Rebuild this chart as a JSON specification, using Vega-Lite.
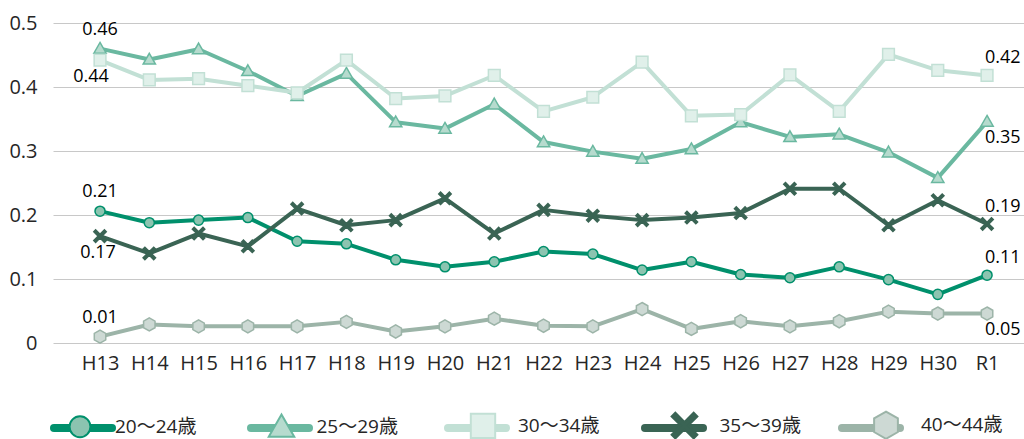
{
  "$schema": "https://vega.github.io/schema/vega-lite/v6.json",
  "width": 971,
  "height": 320,
  "autosize": {"type": "none"},
  "padding": {"left": 53, "top": 23, "right": 0, "bottom": 96},
  "background": "white",
  "config": {
    "view": {"stroke": null},
    "font": "Open Sans",
    "text": {"font": "Open Sans"}
  },
  "data": {
    "values": [
      {"year": "H13", "20～24歳": 0.206, "25～29歳": 0.460, "30～34歳": 0.442, "35～39歳": 0.167, "40～44歳": 0.010},
      {"year": "H14", "20～24歳": 0.188, "25～29歳": 0.443, "30～34歳": 0.411, "35～39歳": 0.140, "40～44歳": 0.029},
      {"year": "H15", "20～24歳": 0.192, "25～29歳": 0.459, "30～34歳": 0.413, "35～39歳": 0.171, "40～44歳": 0.026},
      {"year": "H16", "20～24歳": 0.196, "25～29歳": 0.425, "30～34歳": 0.402, "35～39歳": 0.151, "40～44歳": 0.026},
      {"year": "H17", "20～24歳": 0.159, "25～29歳": 0.386, "30～34歳": 0.391, "35～39歳": 0.210, "40～44歳": 0.026},
      {"year": "H18", "20～24歳": 0.155, "25～29歳": 0.421, "30～34歳": 0.442, "35～39歳": 0.184, "40～44歳": 0.033},
      {"year": "H19", "20～24歳": 0.130, "25～29歳": 0.345, "30～34歳": 0.382, "35～39歳": 0.192, "40～44歳": 0.018},
      {"year": "H20", "20～24歳": 0.119, "25～29歳": 0.335, "30～34歳": 0.386, "35～39歳": 0.226, "40～44歳": 0.026},
      {"year": "H21", "20～24歳": 0.127, "25～29歳": 0.373, "30～34歳": 0.418, "35～39歳": 0.171, "40～44歳": 0.038},
      {"year": "H22", "20～24歳": 0.143, "25～29歳": 0.314, "30～34歳": 0.362, "35～39歳": 0.208, "40～44歳": 0.027},
      {"year": "H23", "20～24歳": 0.139, "25～29歳": 0.299, "30～34歳": 0.384, "35～39歳": 0.199, "40～44歳": 0.026},
      {"year": "H24", "20～24歳": 0.114, "25～29歳": 0.288, "30～34歳": 0.439, "35～39歳": 0.192, "40～44歳": 0.053},
      {"year": "H25", "20～24歳": 0.127, "25～29歳": 0.303, "30～34歳": 0.355, "35～39歳": 0.196, "40～44歳": 0.022},
      {"year": "H26", "20～24歳": 0.107, "25～29歳": 0.345, "30～34歳": 0.357, "35～39歳": 0.203, "40～44歳": 0.034},
      {"year": "H27", "20～24歳": 0.102, "25～29歳": 0.322, "30～34歳": 0.419, "35～39歳": 0.241, "40～44歳": 0.026},
      {"year": "H28", "20～24歳": 0.119, "25～29歳": 0.326, "30～34歳": 0.362, "35～39歳": 0.241, "40～44歳": 0.034},
      {"year": "H29", "20～24歳": 0.099, "25～29歳": 0.298, "30～34歳": 0.451, "35～39歳": 0.184, "40～44歳": 0.049},
      {"year": "H30", "20～24歳": 0.076, "25～29歳": 0.258, "30～34歳": 0.426, "35～39歳": 0.223, "40～44歳": 0.046},
      {"year": "R1", "20～24歳": 0.106, "25～29歳": 0.346, "30～34歳": 0.418, "35～39歳": 0.186, "40～44歳": 0.046}
    ]
  },
  "transform": [
    {"fold": ["20～24歳", "25～29歳", "30～34歳", "35～39歳", "40～44歳"], "as": ["series", "value"]}
  ],
  "encoding": {
    "x": {
      "field": "year", "type": "nominal",
      "scale": {"type": "point", "domain": ["H13","H14","H15","H16","H17","H18","H19","H20","H21","H22","H23","H24","H25","H26","H27","H28","H29","H30","R1"], "padding": 0.852, "align": 0.56},
      "axis": {"title": null, "domain": false, "ticks": false, "grid": false, "labelAngle": 0, "labelFont": "Open Sans", "labelFontSize": 20, "labelColor": "#262626", "labelPadding": 10}
    },
    "y": {
      "field": "value", "type": "quantitative",
      "scale": {"domain": [0, 0.5], "nice": false, "zero": true},
      "axis": {"title": null, "domain": false, "ticks": false, "grid": true, "gridColor": "#C8C8C8", "gridWidth": 1, "values": [0, 0.1, 0.2, 0.3, 0.4, 0.5], "format": "~g", "labelFont": "Open Sans", "labelFontSize": 20, "labelColor": "#262626", "labelPadding": 16}
    }
  },
  "layer": [
    {
      "mark": {"type": "line", "strokeWidth": 4, "strokeJoin": "round", "strokeCap": "round"},
      "encoding": {
        "stroke": {
          "field": "series", "type": "nominal",
          "scale": {"domain": ["20～24歳", "25～29歳", "30～34歳", "35～39歳", "40～44歳"], "range": ["#00906C", "#6AB8A0", "#C2E0D5", "#3A6454", "#9CB4A8"]},
          "legend": {
            "orient": "none", "legendX": -3, "legendY": 372, "direction": "horizontal", "title": null,
            "symbolType": "stroke", "symbolSize": 3364, "symbolStrokeWidth": 8,
            "labelExpr": "''", "labelFontSize": 19, "labelOffset": 5,
            "columnPadding": 107, "padding": 0,
            "encode": {"symbols": {"update": {"strokeCap": {"value": "round"}}}}
          }
        }
      }
    },
    {
      "mark": {"type": "point", "filled": false, "size": 780, "opacity": 1, "strokeWidth": 1.5},
      "encoding": {
        "color": {
          "field": "series", "type": "nominal",
          "scale": {"range": ["#00906C", "#6AB8A0", "#C2E0D5", "#3A6454", "#9CB4A8"]},
          "legend": {
            "orient": "none", "legendX": -3, "legendY": 372, "direction": "horizontal", "title": null,
            "symbolSize": 3364, "symbolStrokeWidth": 2, "symbolFillColor": "#ffffff",
            "labelFont": "Open Sans, Noto Sans CJK JP", "labelFontSize": 19, "labelOffset": 5, "labelColor": "#262626",
            "columnPadding": 48.5, "padding": 0,
            "encode": {"symbols": {
              "update": {
                "fill": {"scale": "fill", "field": "value"},
                "stroke": {"scale": "color", "field": "value"},
                "opacity": {"value": 1}
              }
            }}
          }
        },
        "fill": {
          "field": "series", "type": "nominal",
          "scale": {"range": ["#8CC4B0", "#B6DBCE", "#E0F0EA", "#3A6454", "#CDD9D4"]},
          "legend": {
            "orient": "none", "legendX": -3, "legendY": 372, "direction": "horizontal", "title": null,
            "symbolSize": 3364, "symbolStrokeWidth": 2, "symbolFillColor": "#ffffff",
            "labelFont": "Open Sans, Noto Sans CJK JP", "labelFontSize": 19, "labelOffset": 5, "labelColor": "#262626",
            "columnPadding": 48.5, "padding": 0
          }
        },
        "shape": {
          "field": "series", "type": "nominal",
          "scale": {"range": [
            "M-1.1,0M1.1,0M0.36,0A0.36,0.36 0 1,1 -0.36,0A0.36,0.36 0 1,1 0.36,0Z",
            "M-1.1,0M1.1,0M0,-0.44L0.44,0.33L-0.44,0.33Z",
            "M-1.1,0M1.1,0M-0.42,-0.42L0.42,-0.42L0.42,0.42L-0.42,0.42Z",
            "M-1.1,0M1.1,0M0,-0.127L0.316,-0.444L0.444,-0.316L0.127,0L0.444,0.316L0.316,0.444L0,0.127L-0.316,0.444L-0.444,0.316L-0.127,0L-0.444,-0.316L-0.316,-0.444Z",
            "M-1.1,0M1.1,0M0,-0.47L0.41,-0.235L0.41,0.235L0,0.47L-0.41,0.235L-0.41,-0.235Z"
          ]},
          "legend": {
            "orient": "none", "legendX": -3, "legendY": 372, "direction": "horizontal", "title": null,
            "symbolSize": 3364, "symbolStrokeWidth": 2, "symbolFillColor": "#ffffff",
            "labelFont": "Open Sans, Noto Sans CJK JP", "labelFontSize": 19, "labelOffset": 5, "labelColor": "#262626",
            "columnPadding": 48.5, "padding": 0
          }
        }
      }
    },
    {
      "transform": [{"filter": "datum.year === 'H13' && (datum.series === '25～29歳' || datum.series === '20～24歳' || datum.series === '40～44歳')"}],
      "mark": {"type": "text", "fontSize": 18, "color": "#000000", "align": "center", "baseline": "middle", "dy": -19},
      "encoding": {"text": {"field": "value", "type": "quantitative", "format": ".2f"}}
    },
    {
      "transform": [{"filter": "datum.year === 'H13' && datum.series === '30～34歳'"}],
      "mark": {"type": "text", "fontSize": 18, "color": "#000000", "align": "center", "baseline": "middle", "dx": -9, "dy": 17},
      "encoding": {"text": {"field": "value", "type": "quantitative", "format": ".2f"}}
    },
    {
      "transform": [{"filter": "datum.year === 'H13' && datum.series === '35～39歳'"}],
      "mark": {"type": "text", "fontSize": 18, "color": "#000000", "align": "center", "baseline": "middle", "dx": -2, "dy": 17},
      "encoding": {"text": {"field": "value", "type": "quantitative", "format": ".2f"}}
    },
    {
      "transform": [{"filter": "datum.year === 'R1' && (datum.series === '30～34歳' || datum.series === '35～39歳' || datum.series === '20～24歳')"}],
      "mark": {"type": "text", "fontSize": 18, "color": "#000000", "align": "left", "baseline": "middle", "dx": -2, "dy": -17},
      "encoding": {"text": {"field": "value", "type": "quantitative", "format": ".2f"}}
    },
    {
      "transform": [{"filter": "datum.year === 'R1' && (datum.series === '25～29歳' || datum.series === '40～44歳')"}],
      "mark": {"type": "text", "fontSize": 18, "color": "#000000", "align": "left", "baseline": "middle", "dx": -2, "dy": 16},
      "encoding": {"text": {"field": "value", "type": "quantitative", "format": ".2f"}}
    }
  ]
}
